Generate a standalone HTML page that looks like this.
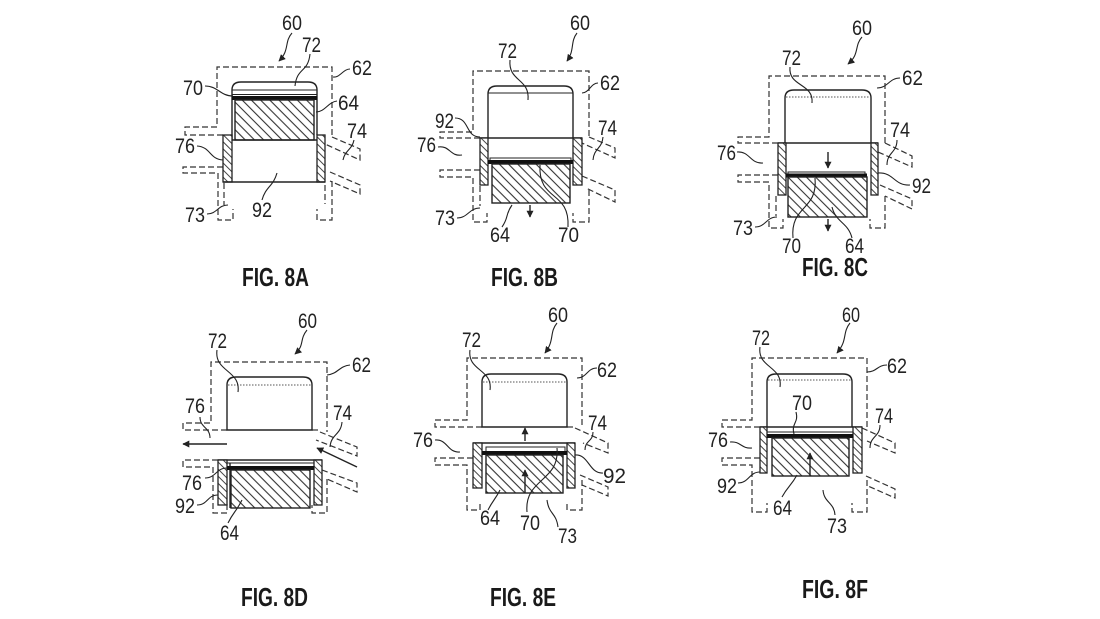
<!DOCTYPE html>
<html><head><meta charset="utf-8"><style>
html,body{margin:0;padding:0;background:#fff;}
svg{display:block}
.s{stroke:#222;stroke-width:1.4;fill:none}
.th{stroke:#222;stroke-width:1;fill:none}
.d{stroke:#333;stroke-width:1.2;fill:none;stroke-dasharray:6 3}
.dot{stroke:#555;stroke-width:1;fill:none;stroke-dasharray:1.5 1.5}
.hb{stroke:#222;stroke-width:1.4;fill:url(#ph)}
.hb2{stroke:#222;stroke-width:1.3;fill:url(#ph2)}
.ld{stroke:#222;stroke-width:1.1;fill:none}
.t{font-family:"Liberation Sans",Arial,sans-serif;font-size:21px;fill:#222}
.c{font-family:"Liberation Sans",Arial,sans-serif;font-size:26px;font-weight:bold;fill:#1a1a1a}
</style></head><body>
<svg width="1100" height="619" viewBox="0 0 1100 619" xmlns="http://www.w3.org/2000/svg">
<defs>
<pattern id="ph" width="6.5" height="6.5" patternUnits="userSpaceOnUse" patternTransform="rotate(-45)">
<rect width="6.5" height="6.5" fill="#fff"/><line x1="3" y1="0" x2="3" y2="6.5" stroke="#333" stroke-width="1.1"/></pattern>
<pattern id="ph2" width="5" height="5" patternUnits="userSpaceOnUse" patternTransform="rotate(-45)">
<rect width="5" height="5" fill="#fff"/><line x1="2.5" y1="0" x2="2.5" y2="5" stroke="#444" stroke-width="1"/></pattern>
<marker id="ah" viewBox="0 0 10 10" refX="9" refY="5" markerWidth="7" markerHeight="7" orient="auto" markerUnits="userSpaceOnUse">
<path d="M0,0 L10,5 L0,10 z" fill="#222"/></marker>
</defs>
<rect width="1100" height="619" fill="#fff"/>

<!-- ============ FIG 8A ============ -->
<path class="d" d="M223,135 H185 V127 H217 V67 H332 V137"/>
<path class="d" d="M332,137 L360,149 V160 L325,144"/>
<path class="d" d="M330,172 L360,185 V194 L330,181"/>
<path class="d" d="M223,167 H183 V173 H218 V220 H233 V209"/>
<path class="d" d="M224,183 V205"/>
<path class="d" d="M332,181 V220 H317 V209"/>
<path class="d" d="M325,185 V204"/>
<path class="s" d="M232,140 V90 Q232,82 241,82 H308 Q317,82 317,90 V135"/>
<line class="th" x1="232" y1="90" x2="317" y2="90"/>
<line class="th" x1="232" y1="94.5" x2="317" y2="94.5"/>
<rect x="232" y="96" width="85" height="4" fill="#111"/>
<rect class="hb" x="235" y="100" width="79" height="40"/>
<line class="s" x1="232" y1="140" x2="317" y2="140"/>
<rect class="hb2" x="223" y="135" width="9" height="47"/>
<rect class="hb2" x="317" y="135" width="8" height="47"/>
<line class="s" x1="223" y1="182" x2="325" y2="182"/>

<!-- ============ FIG 8B ============ -->
<path class="d" d="M480,138 H440 V132 H473 V71 H589 V137"/>
<path class="d" d="M589,137 L615,148 V158 L582,143"/>
<path class="d" d="M582,176 L615,190 V202 L586,188"/>
<path class="d" d="M480,170 H440 V177 H473 V222 H487 V213"/>
<path class="d" d="M480,186 V206"/>
<path class="d" d="M589,190 V222 H573 V213"/>
<path class="s" d="M488,138 V94 Q488,86 497,86 H564 Q573,86 573,94 V138"/>
<line class="th" x1="488" y1="93" x2="573" y2="93"/>
<line class="s" x1="480" y1="138" x2="582" y2="138"/>
<rect class="hb2" x="480" y="138" width="8" height="47"/>
<rect class="hb2" x="573" y="138" width="9" height="47"/>
<path class="th" d="M490,160 V158 H571 V160"/>
<rect x="488" y="160" width="85" height="4" fill="#111"/>
<rect class="hb" x="492" y="164" width="78" height="39"/>
<line class="s" x1="530" y1="205" x2="530" y2="217" marker-end="url(#ah)"/>

<!-- ============ FIG 8C ============ -->
<path class="d" d="M778,143 H738 V137 H769 V76 H885 V143"/>
<path class="d" d="M885,143 L912,156 V167 L878,152"/>
<path class="d" d="M880,185 L912,199 V209 L885,196"/>
<path class="d" d="M778,175 H738 V182 H769 V228 H783 V219"/>
<path class="d" d="M776,196 V216"/>
<path class="d" d="M885,196 V228 H870 V219"/>
<path class="s" d="M785,143 V98 Q785,90 794,90 H862 Q871,90 871,98 V143"/>
<line class="dot" x1="786" y1="97" x2="870" y2="97"/>
<line class="s" x1="778" y1="143" x2="878" y2="143"/>
<rect class="hb2" x="778" y="143" width="8" height="52"/>
<rect class="hb2" x="871" y="143" width="7" height="52"/>
<line class="s" x1="828" y1="152" x2="828" y2="168" marker-end="url(#ah)"/>
<path class="th" d="M788,174 V172 H865 V174"/>
<rect x="786" y="173.5" width="81" height="4" fill="#111"/>
<rect class="hb" x="788" y="177" width="79" height="40"/>
<line class="s" x1="828" y1="219" x2="828" y2="231" marker-end="url(#ah)"/>

<!-- ============ FIG 8D ============ -->
<path class="d" d="M227,430 H183 V423 H211 V362 H327 V432"/>
<path class="d" d="M312,430 H320"/>
<path class="d" d="M320,432 L357,447 V456 L316,440"/>
<path class="d" d="M322,470 L357,483 V492 L327,479"/>
<path class="d" d="M218,460 H183 V467 H213 V513 H227 V503"/>
<path class="d" d="M327,479 V513 H312 V505"/>
<path class="s" d="M227,430 V385 Q227,377 236,377 H303 Q312,377 312,385 V430 Z"/>
<line class="dot" x1="228" y1="385" x2="311" y2="385"/>
<line class="s" x1="227" y1="444" x2="183" y2="444" marker-end="url(#ah)"/>
<line class="s" x1="357" y1="467" x2="317" y2="448" marker-end="url(#ah)"/>
<line class="s" x1="218" y1="460" x2="322" y2="460"/>
<rect class="hb2" x="218" y="460" width="9" height="45"/>
<line class="s" x1="230" y1="463" x2="230" y2="508"/>
<rect class="hb2" x="314" y="460" width="8" height="45"/>
<line class="th" x1="227" y1="463" x2="314" y2="463"/>
<rect x="227" y="466" width="87" height="4" fill="#111"/>
<rect class="hb" x="231" y="470" width="79" height="38"/>

<!-- ============ FIG 8E ============ -->
<path class="d" d="M482,427 H435 V420 H467 V358 H582 V427"/>
<path class="d" d="M567,427 H575"/>
<path class="d" d="M575,428 L608,443 V453 L583,443"/>
<path class="d" d="M580,475 L608,487 V496 L582,485"/>
<path class="d" d="M473,458 H435 V465 H467 V510 H480 V501"/>
<path class="d" d="M582,480 V510 H567 V501"/>
<path class="s" d="M482,427 V382 Q482,374 491,374 H558 Q567,374 567,382 V427 Z"/>
<line class="dot" x1="483" y1="382" x2="566" y2="382"/>
<line class="s" x1="525" y1="441" x2="525" y2="428" marker-end="url(#ah)"/>
<line class="s" x1="473" y1="443" x2="575" y2="443"/>
<rect class="hb2" x="473" y="443" width="9" height="45"/>
<rect class="hb2" x="567" y="443" width="8" height="45"/>
<path class="th" d="M486,451 V447 H565 V451"/>
<rect x="482" y="451" width="85" height="4" fill="#111"/>
<rect class="hb" x="486" y="455" width="77" height="38"/>
<line class="s" x1="525" y1="493" x2="525" y2="470" marker-end="url(#ah)"/>

<!-- ============ FIG 8F ============ -->
<path class="d" d="M760,427 H722 V420 H752 V358 H867 V428"/>
<path class="d" d="M862,428 L895,443 V453 L867,441"/>
<path class="d" d="M866,476 L895,489 V498 L868,486"/>
<path class="d" d="M760,458 H722 V465 H752 V512 H767 V503"/>
<path class="d" d="M867,480 V512 H852 V503"/>
<path class="s" d="M767,427 V382 Q767,374 776,374 H843 Q852,374 852,382 V427"/>
<line class="dot" x1="768" y1="380" x2="851" y2="380"/>
<line class="s" x1="760" y1="427" x2="862" y2="427"/>
<rect class="hb2" x="760" y="427" width="7" height="46"/>
<rect class="hb2" x="853" y="427" width="9" height="46"/>
<line class="th" x1="767" y1="432" x2="853" y2="432"/>
<rect x="767" y="434" width="86" height="4" fill="#111"/>
<rect class="hb" x="772" y="438" width="77" height="38"/>
<line class="s" x1="810" y1="476" x2="810" y2="453" marker-end="url(#ah)"/>

<!-- ============ LEADERS ============ -->
<g id="leaders">
<!-- 8A -->
<path class="ld" d="M292,33 C284,42 290,50 279,61" marker-end="url(#ah)"/>
<path class="ld" d="M310,54 C308,73 297,67 295,86"/>
<path class="ld" d="M350,69 C343,69 340,78 333,77"/>
<path class="ld" d="M205,86 C218,86 220,96 233,96"/>
<path class="ld" d="M337,101 C328,102 325,112 316,112"/>
<path class="ld" d="M354,140 C352,150 345,150 343,160"/>
<path class="ld" d="M197,146 C211,147 209,159 223,160"/>
<path class="ld" d="M262,200 C266,186 273,187 277,173"/>
<path class="ld" d="M207,214 C217,214 218,205 228,205"/>
<!-- 8B -->
<path class="ld" d="M577,33 C570,42 575,50 567,61" marker-end="url(#ah)"/>
<path class="ld" d="M510,60 C508,82 530,78 528,100"/>
<path class="ld" d="M598,83 C591,83 589,93 582,93"/>
<path class="ld" d="M455,118 C470,118 465,137 480,137"/>
<path class="ld" d="M603,137 C602,149 594,148 593,160"/>
<path class="ld" d="M438,147 C450,145 450,157 462,155"/>
<path class="ld" d="M457,218 C468,218 469,208 480,208"/>
<path class="ld" d="M502,227 C509,217 505,215 512,205"/>
<path class="ld" d="M568,227 C570,190 538,202 540,165"/>
<!-- 8C -->
<path class="ld" d="M862,37 C854,46 860,54 848,64" marker-end="url(#ah)"/>
<path class="ld" d="M790,67 C788,87 814,83 812,103"/>
<path class="ld" d="M900,78 C889,78 888,88 877,88"/>
<path class="ld" d="M737,152 C750,151 750,164 763,163"/>
<path class="ld" d="M897,140 C897,153 887,152 887,165"/>
<path class="ld" d="M910,185 C894,186 894,172 878,173"/>
<path class="ld" d="M755,227 C766,227 766,217 777,217"/>
<path class="ld" d="M793,238 C790,205 818,211 815,178"/>
<path class="ld" d="M852,238 C848,222 836,223 832,207"/>
<!-- 8D -->
<path class="ld" d="M307,330 C299,340 305,345 295,354" marker-end="url(#ah)"/>
<path class="ld" d="M217,350 C214,372 241,370 238,392"/>
<path class="ld" d="M350,365 C339,366 338,374 327,375"/>
<path class="ld" d="M200,417 C200,428 210,427 210,438"/>
<path class="ld" d="M342,422 C341,435 331,434 330,447"/>
<path class="ld" d="M205,478 C216,478 216,468 227,468"/>
<path class="ld" d="M197,505 C208,505 207,495 218,495"/>
<path class="ld" d="M228,523 C234,511 236,512 242,500"/>
<!-- 8E -->
<path class="ld" d="M557,323 C549,333 555,340 545,353" marker-end="url(#ah)"/>
<path class="ld" d="M470,350 C467,371 493,369 490,390"/>
<path class="ld" d="M597,368 C587,368 587,378 577,378"/>
<path class="ld" d="M435,440 C448,439 447,453 460,452"/>
<path class="ld" d="M593,432 C593,442 585,440 585,450"/>
<path class="ld" d="M603,473 C589,474 589,454 575,455"/>
<path class="ld" d="M488,510 C493,500 495,500 500,490"/>
<path class="ld" d="M527,512 C524,478 560,482 557,448"/>
<path class="ld" d="M558,527 C556,512 549,515 547,500"/>
<!-- 8F -->
<path class="ld" d="M850,323 C842,333 848,340 837,353" marker-end="url(#ah)"/>
<path class="ld" d="M760,347 C757,368 783,366 780,387"/>
<path class="ld" d="M887,365 C877,365 877,372 867,372"/>
<path class="ld" d="M796,412 C799,423 791,423 794,434"/>
<path class="ld" d="M730,442 C741,441 741,449 752,448"/>
<path class="ld" d="M880,425 C880,437 870,436 870,448"/>
<path class="ld" d="M738,483 C749,483 749,472 760,472"/>
<path class="ld" d="M782,497 C788,486 791,486 797,475"/>
<path class="ld" d="M835,515 C834,502 824,503 823,490"/>
</g>

<!-- ============ LABELS ============ -->
<!-- 8A -->
<text class="t" x="282" y="30" textLength="20" lengthAdjust="spacingAndGlyphs">60</text>
<text class="t" x="302" y="52" textLength="19" lengthAdjust="spacingAndGlyphs">72</text>
<text class="t" x="352" y="75" textLength="20" lengthAdjust="spacingAndGlyphs">62</text>
<text class="t" x="183" y="95" textLength="20" lengthAdjust="spacingAndGlyphs">70</text>
<text class="t" x="338" y="110" textLength="21" lengthAdjust="spacingAndGlyphs">64</text>
<text class="t" x="347" y="138" textLength="20" lengthAdjust="spacingAndGlyphs">74</text>
<text class="t" x="175" y="153" textLength="20" lengthAdjust="spacingAndGlyphs">76</text>
<text class="t" x="252" y="217" textLength="20" lengthAdjust="spacingAndGlyphs">92</text>
<text class="t" x="185" y="222" textLength="20" lengthAdjust="spacingAndGlyphs">73</text>
<!-- 8B -->
<text class="t" x="570" y="30" textLength="20" lengthAdjust="spacingAndGlyphs">60</text>
<text class="t" x="498" y="58" textLength="19" lengthAdjust="spacingAndGlyphs">72</text>
<text class="t" x="600" y="90" textLength="20" lengthAdjust="spacingAndGlyphs">62</text>
<text class="t" x="435" y="128" textLength="19" lengthAdjust="spacingAndGlyphs">92</text>
<text class="t" x="598" y="135" textLength="19" lengthAdjust="spacingAndGlyphs">74</text>
<text class="t" x="417" y="152" textLength="19" lengthAdjust="spacingAndGlyphs">76</text>
<text class="t" x="435" y="225" textLength="20" lengthAdjust="spacingAndGlyphs">73</text>
<text class="t" x="490" y="242" textLength="20" lengthAdjust="spacingAndGlyphs">64</text>
<text class="t" x="558" y="242" textLength="21" lengthAdjust="spacingAndGlyphs">70</text>
<!-- 8C -->
<text class="t" x="852" y="35" textLength="20" lengthAdjust="spacingAndGlyphs">60</text>
<text class="t" x="782" y="65" textLength="19" lengthAdjust="spacingAndGlyphs">72</text>
<text class="t" x="902" y="85" textLength="21" lengthAdjust="spacingAndGlyphs">62</text>
<text class="t" x="717" y="160" textLength="19" lengthAdjust="spacingAndGlyphs">76</text>
<text class="t" x="890" y="137" textLength="20" lengthAdjust="spacingAndGlyphs">74</text>
<text class="t" x="912" y="193" textLength="19" lengthAdjust="spacingAndGlyphs">92</text>
<text class="t" x="733" y="235" textLength="20" lengthAdjust="spacingAndGlyphs">73</text>
<text class="t" x="782" y="253" textLength="19" lengthAdjust="spacingAndGlyphs">70</text>
<text class="t" x="845" y="253" textLength="19" lengthAdjust="spacingAndGlyphs">64</text>
<!-- 8D -->
<text class="t" x="298" y="328" textLength="19" lengthAdjust="spacingAndGlyphs">60</text>
<text class="t" x="208" y="348" textLength="19" lengthAdjust="spacingAndGlyphs">72</text>
<text class="t" x="352" y="372" textLength="19" lengthAdjust="spacingAndGlyphs">62</text>
<text class="t" x="185" y="413" textLength="20" lengthAdjust="spacingAndGlyphs">76</text>
<text class="t" x="333" y="420" textLength="19" lengthAdjust="spacingAndGlyphs">74</text>
<text class="t" x="182" y="490" textLength="20" lengthAdjust="spacingAndGlyphs">76</text>
<text class="t" x="175" y="513" textLength="20" lengthAdjust="spacingAndGlyphs">92</text>
<text class="t" x="220" y="540" textLength="19" lengthAdjust="spacingAndGlyphs">64</text>
<!-- 8E -->
<text class="t" x="548" y="322" textLength="20" lengthAdjust="spacingAndGlyphs">60</text>
<text class="t" x="462" y="347" textLength="19" lengthAdjust="spacingAndGlyphs">72</text>
<text class="t" x="597" y="377" textLength="20" lengthAdjust="spacingAndGlyphs">62</text>
<text class="t" x="413" y="447" textLength="20" lengthAdjust="spacingAndGlyphs">76</text>
<text class="t" x="588" y="430" textLength="19" lengthAdjust="spacingAndGlyphs">74</text>
<text class="t" x="603" y="483" textLength="23" lengthAdjust="spacingAndGlyphs">92</text>
<text class="t" x="480" y="525" textLength="20" lengthAdjust="spacingAndGlyphs">64</text>
<text class="t" x="520" y="530" textLength="20" lengthAdjust="spacingAndGlyphs">70</text>
<text class="t" x="558" y="543" textLength="19" lengthAdjust="spacingAndGlyphs">73</text>
<!-- 8F -->
<text class="t" x="842" y="322" textLength="18" lengthAdjust="spacingAndGlyphs">60</text>
<text class="t" x="752" y="345" textLength="18" lengthAdjust="spacingAndGlyphs">72</text>
<text class="t" x="887" y="373" textLength="20" lengthAdjust="spacingAndGlyphs">62</text>
<text class="t" x="792" y="410" textLength="20" lengthAdjust="spacingAndGlyphs">70</text>
<text class="t" x="708" y="447" textLength="20" lengthAdjust="spacingAndGlyphs">76</text>
<text class="t" x="875" y="423" textLength="18" lengthAdjust="spacingAndGlyphs">74</text>
<text class="t" x="717" y="493" textLength="20" lengthAdjust="spacingAndGlyphs">92</text>
<text class="t" x="773" y="515" textLength="19" lengthAdjust="spacingAndGlyphs">64</text>
<text class="t" x="827" y="533" textLength="20" lengthAdjust="spacingAndGlyphs">73</text>

<!-- ============ CAPTIONS ============ -->
<text class="c" x="242" y="286" textLength="67" lengthAdjust="spacingAndGlyphs">FIG. 8A</text>
<text class="c" x="491" y="286" textLength="67" lengthAdjust="spacingAndGlyphs">FIG. 8B</text>
<text class="c" x="802" y="276" textLength="66" lengthAdjust="spacingAndGlyphs">FIG. 8C</text>
<text class="c" x="241" y="606" textLength="67" lengthAdjust="spacingAndGlyphs">FIG. 8D</text>
<text class="c" x="490" y="606" textLength="66" lengthAdjust="spacingAndGlyphs">FIG. 8E</text>
<text class="c" x="802" y="598" textLength="66" lengthAdjust="spacingAndGlyphs">FIG. 8F</text>
</svg>
</body></html>
